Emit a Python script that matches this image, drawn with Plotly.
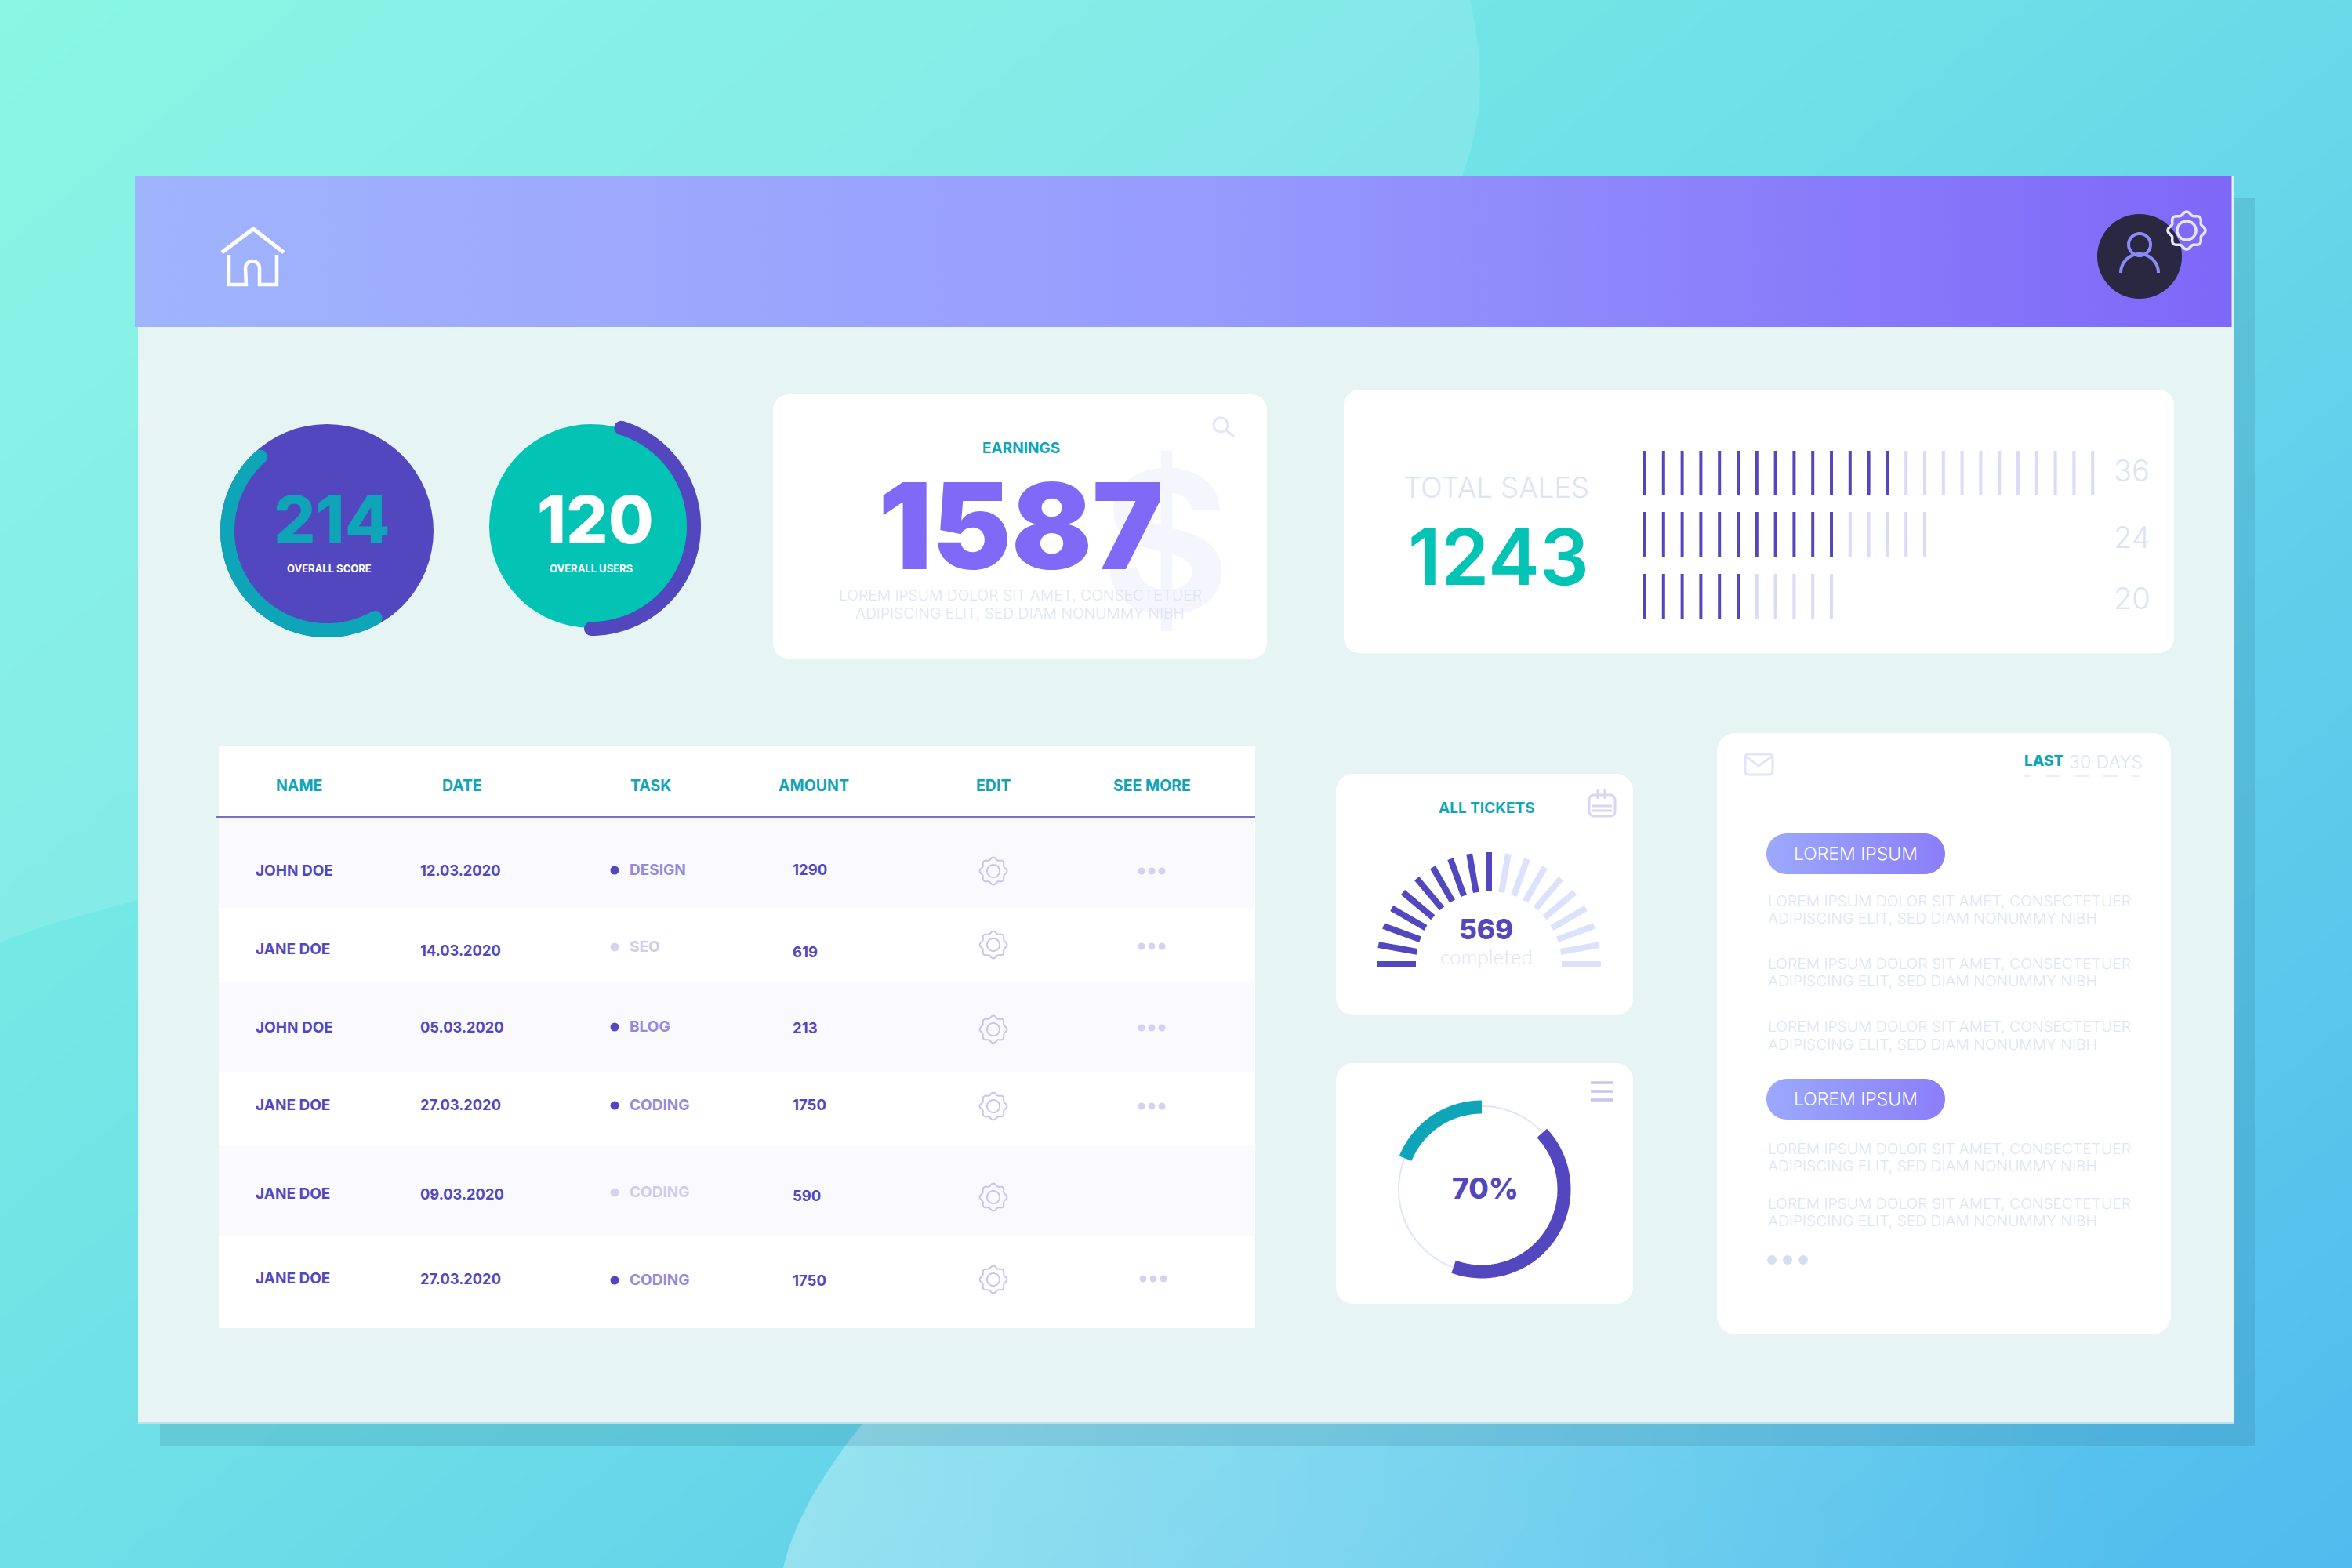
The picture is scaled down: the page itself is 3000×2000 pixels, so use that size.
import math
import plotly.graph_objects as go

# ---------- data ----------
table_headers = ["NAME", "DATE", "TASK", "AMOUNT", "EDIT", "SEE MORE"]
names = ["JOHN DOE", "JANE DOE", "JOHN DOE", "JANE DOE", "JANE DOE", "JANE DOE"]
dates = ["12.03.2020", "14.03.2020", "05.03.2020", "27.03.2020", "09.03.2020", "27.03.2020"]
tasks = ["DESIGN", "SEO", "BLOG", "CODING", "CODING", "CODING"]
task_active = [True, False, True, True, False, True]
amounts = ["1290", "619", "213", "1750", "590", "1750"]
has_more = [True, True, True, True, False, True]

sales_labels = ["36", "24", "20"]
sales_ticks_total = [25, 16, 11]
sales_ticks_dark = [14, 11, 6]

gauge_bars_total = 19
gauge_bars_dark = 10

score_arc = [132, 299]
users_arc = [73, -90]
donut_teal_arc = [90, 158]
donut_purple_arc = [43, -110]

PURPLE = "#5247BE"
TEAL = "#0FA5B8"
GREEN = "#03C3B5"
VIOLET = "#8069F7"
PALE = "#DDE5F5"
LILAC = "#D5D1F1"
LOREM1 = "LOREM IPSUM DOLOR SIT AMET, CONSECTETUER"
LOREM2 = "ADIPISCING ELIT, SED DIAM NONUMMY NIBH"
FONT = "Inter"

fig = go.Figure()


def rrect(x0, y0, x1, y1, r=0):
    if r == 0:
        return [x0, x1, x1, x0, x0], [y0, y0, y1, y1, y0]
    xs, ys = [], []
    for cx, cy, a0 in [(x1 - r, y0 + r, -90), (x1 - r, y1 - r, 0), (x0 + r, y1 - r, 90), (x0 + r, y0 + r, 180)]:
        for i in range(13):
            a = math.radians(a0 + i * 7.5)
            xs.append(cx + r * math.cos(a))
            ys.append(cy + r * math.sin(a))
    return xs + xs[:1], ys + ys[:1]


def arc(cx, cy, r, a0, a1, n=90):
    ang = [math.radians(a0 + (a1 - a0) * i / n) for i in range(n + 1)]
    return [cx + r * math.cos(a) for a in ang], [cy - r * math.sin(a) for a in ang]


def fill(xs, ys, color=None, gradient=None):
    kw = dict(fillgradient=dict(type="horizontal", colorscale=gradient)) if gradient else dict(fillcolor=color)
    fig.add_trace(go.Scatter(x=xs, y=ys, mode="lines", fill="toself", line=dict(width=0, simplify=False),
                             hoverinfo="skip", **kw))


def line(xs, ys, color, width, caps=False):
    fig.add_trace(go.Scatter(x=xs, y=ys, mode="lines", line=dict(color=color, width=width, simplify=False),
                             hoverinfo="skip"))
    if caps:
        fig.add_trace(go.Scatter(x=[xs[0], xs[-1]], y=[ys[0], ys[-1]], mode="markers",
                                 marker=dict(color=color, size=width, line=dict(width=0)), hoverinfo="skip"))


def dots(xs, ys, color, size):
    fig.add_trace(go.Scatter(x=xs, y=ys, mode="markers", marker=dict(color=color, size=size, line=dict(width=0)),
                             hoverinfo="skip"))


def gear(cx, cy, r_out, r_in, color, width):
    ang = [i * 2 * math.pi / 120 for i in range(121)]
    rad = [r_out + r_out * 0.09 * math.cos(8 * a) for a in ang]
    line([cx + r * math.sin(a) for r, a in zip(rad, ang)], [cy - r * math.cos(a) for r, a in zip(rad, ang)], color, width)
    xs, ys = arc(cx, cy, r_in, 0, 360)
    line(xs, ys, color, width)


def text(x, y, s, size, color, weight=400, anchor="center", family=FONT):
    fig.add_annotation(x=x, y=y, text=s, showarrow=False, xanchor=anchor, yanchor="middle",
                       font=dict(family=family, size=size, color=color, weight=weight))


# ---------- background ----------
fig.add_trace(go.Heatmap(x=[0, 3000], y=[0, 2000], z=[[0, 0.55], [0.45, 1]], zsmooth="best", showscale=False,
                         zmin=0, zmax=1, hoverinfo="skip",
                         colorscale=[[0, "#78F6E0"], [0.43, "#70E1E7"], [1, "#50BBEE"]]))
fill([0, 1875, 1881, 1886, 1888, 1887, 1882, 1875, 1865, 1850, 1800, 300, 176, 60, 0, 0],
     [0, 0, 30, 65, 105, 135, 165, 195, 225, 260, 400, 1100, 1148, 1180, 1202, 0], "rgba(255,255,255,0.13)")
blob_x = [1100, 1078, 1056, 1036, 1018, 1006, 999, 3000, 3000, 1100]
blob_y = [1816, 1844, 1876, 1908, 1944, 1974, 2000, 2000, 1816, 1816]
fill(blob_x, blob_y, gradient=[[0, "rgba(255,255,255,0.32)"], [0.4, "rgba(255,255,255,0.18)"], [0.85, "rgba(255,255,255,0)"], [1, "rgba(255,255,255,0)"]])

# ---------- panel ----------
fill(*rrect(204, 253, 2876, 1844), "rgba(40,90,120,0.15)")
fill(*rrect(176, 410, 2849, 1816), "#E6F4F3")
line([176, 2849], [1815, 1815], "#BFE3E6", 2)
fill(*rrect(172, 225, 2847, 417), gradient=[[0, "#A0B4FC"], [0.5, "#979CFD"], [1, "#7F67F8"]])
line([2848, 2848], [225, 417], "#DDF3F6", 3)

# header icons
line([283, 323, 362], [322, 292, 322], "#FFFFFF", 5)
hx, hy = arc(322, 342, 9, 180, 0, 20)
line([292, 292, 314] + hx + [331, 331, 353, 353], [325, 363, 363] + hy + [342, 363, 363, 325], "#FFFFFF", 4.5)
dots([2729], [327], "#2A2840", 108)
hx, hy = arc(2729, 312, 14, 0, 360)
line(hx, hy, "#8B8BF7", 4)
hx, hy = arc(2729, 348, 24, 0, 180, 40)
line(hx, hy, "#8B8BF7", 4)
gear(2789, 294, 22, 12, "#E4E8FC", 3.5)

# ---------- score circles ----------
dots([417], [677], PURPLE, 272)
line(*arc(417, 677, 127, score_arc[0], score_arc[1]), TEAL, 18, caps=True)
text(423, 662, "214", 84, TEAL, 800)
text(420, 725, "OVERALL SCORE", 13, "#FFFFFF", 700)
dots([754], [671], GREEN, 260)
line(*arc(754, 671, 131, users_arc[0], users_arc[1]), PURPLE, 18, caps=True)
text(759, 662, "120", 84, "#FFFFFF", 800)
text(754, 725, "OVERALL USERS", 13, "#FFFFFF", 700)

# ---------- earnings ----------
fill(*rrect(986, 503, 1616, 840, 20), "#FFFFFF")
text(1487, 690, "$", 250, "#F5F6FD", 700)
text(1302, 571, "EARNINGS", 19, TEAL, 700)
text(1302, 671, "1587", 152, VIOLET, 900)
text(1301, 759, LOREM1, 19.3, PALE, 300)
text(1301, 782, LOREM2, 19.3, PALE, 300)
hx, hy = arc(1557, 542, 9, 0, 360)
line(hx, hy, "#E3E4F8", 3)
line([1564, 1574], [549, 557], "#E3E4F8", 3)

# ---------- total sales ----------
fill(*rrect(1714, 497, 2773, 833, 20), "#FFFFFF")
text(1908, 622, "TOTAL SALES", 36.5, "#DCE4F3", 300)
text(1911, 710, "1243", 99, GREEN, 600)
for row, (label, total, dark, y0) in enumerate(zip(sales_labels, sales_ticks_total, sales_ticks_dark, [575, 653, 732])):
    for i in range(total):
        x = 2098 + i * 23.8
        line([x, x], [y0, y0 + 57], PURPLE if i < dark else "#D9DBF8", 4)
    text(2719, [600, 685, 763][row], label, 38, "#DCE4F3", 300)

# ---------- table ----------
fill(*rrect(279, 951, 1601, 1694), "#FFFFFF")
bands = [(1044, 1158), (1252, 1367), (1461, 1576)]
for b0, b1 in bands:
    fill(*rrect(279, b0, 1600, b1), "#F9F9FE")
line([276, 1601], [1042, 1042], "#7A6FD0", 2)
for h, x in zip(table_headers, [381, 589, 830, 1038, 1267, 1469]):
    text(x, 1002, h, 19.5, TEAL, 700)
name_y = [1110, 1210, 1310, 1409, 1522, 1630]
date_y = [1110, 1212, 1310, 1409, 1523, 1631]
task_y = [1109, 1207, 1309, 1409, 1520, 1632]
amount_y = [1109, 1214, 1311, 1409, 1525, 1633]
gear_y = [1111, 1205, 1313, 1411, 1527, 1632]
more_y = [1111, 1207, 1311, 1411, 1527, 1631]
for i in range(6):
    text(324, name_y[i], names[i], 19, PURPLE, 700, "left")
    text(534, date_y[i], dates[i], 18.3, PURPLE, 700, "left")
    dots([784], [task_y[i] + 1], PURPLE if task_active[i] else LILAC, 11)
    text(801, task_y[i], tasks[i], 19, "#9389DD" if task_active[i] else "#CFCBEF", 700, "left")
    text(1009, amounts and amount_y[i], amounts[i], 18.5, PURPLE, 700, "left")
    gear(1267, gear_y[i], 16, 8, "#C9C3F0", 2)
    if has_more[i]:
        shift = 2 if i == 5 else 0
        dots([1456 + shift, 1469 + shift, 1482 + shift], [more_y[i]] * 3, LILAC, 9)

# ---------- all tickets ----------
fill(*rrect(1704, 987, 2083, 1295, 22), "#FFFFFF")
text(1896, 1030, "ALL TICKETS", 19, TEAL, 700)
for i in range(gauge_bars_total):
    a = math.radians(180 - i * 180 / (gauge_bars_total - 1))
    ca, sa = math.cos(a), math.sin(a)
    line([1899 + 93 * ca, 1899 + 143 * ca], [1230 - 93 * sa, 1230 - 143 * sa],
         PURPLE if i < gauge_bars_dark else "#DDE2FC", 8)
text(1895, 1185, "569", 35, PURPLE, 800)
text(1896, 1220, "completed", 26, "#E2E2F5", 300, family="Lato")
line(*rrect(2027, 1014, 2060, 1041, 6), "#D9D5F2", 3)
line([2038, 2038], [1007, 1019], "#D9D5F2", 3)
line([2047, 2047], [1007, 1019], "#D9D5F2", 3)
line([2031, 2056], [1028, 1028], "#D9D5F2", 3)
line([2031, 2056], [1034, 1034], "#D9D5F2", 3)

# ---------- donut ----------
fill(*rrect(1704, 1356, 2083, 1663, 22), "#FFFFFF")
line(*arc(1890, 1517, 106, 0, 360, 180), "#DFE4FB", 2)
line(*arc(1890, 1517, 105, donut_teal_arc[0], donut_teal_arc[1]), TEAL, 17)
line(*arc(1890, 1517, 105, donut_purple_arc[0], donut_purple_arc[1]), PURPLE, 17)
text(1894, 1515, "70%", 37, PURPLE, 800)
for y in [1381, 1392, 1403]:
    line([2029, 2058], [y, y], "#C9C3F0", 3.5)

# ---------- messages ----------
fill(*rrect(2190, 935, 2769, 1702, 24), "#FFFFFF")
line(*rrect(2226, 962, 2261, 988, 4), "#E0E5FB", 3)
line([2227, 2243, 2260], [965, 977, 965], "#E0E5FB", 3)
text(2580, 970, "LAST", 19, TEAL, 800, "left")
text(2686, 972, "30 DAYS", 23, "#DCE4F3", 300)
for x0, x1 in [(2581, 2591), (2609, 2628), (2647, 2665), (2683, 2702), (2720, 2730)]:
    line([x0, x1], [990, 990], "#E3E8F7", 1.5)
for y0 in [1063, 1376]:
    fill(*rrect(2253, y0, 2481, y0 + 52, 26), gradient=[[0, "#9BA9FC"], [1, "#8B7EF8"]])
    text(2367, y0 + 26, "LOREM IPSUM", 23, "#FFFFFF", 300)
for y1, y2 in [(1149, 1171), (1229, 1251), (1309, 1332), (1465, 1487), (1535, 1557)]:
    text(2253, y1, LOREM1, 19.3, PALE, 300, "left")
    text(2253, y2, LOREM2, 19.3, PALE, 300, "left")
dots([2260, 2280, 2300], [1607] * 3, "#D5DFF0", 12)

fig.update_layout(width=3000, height=2000, margin=dict(l=0, r=0, t=0, b=0), showlegend=False,
                  paper_bgcolor="#70E1E7", plot_bgcolor="#70E1E7",
                  xaxis=dict(visible=False, range=[0, 3000], fixedrange=True),
                  yaxis=dict(visible=False, range=[2000, 0], fixedrange=True))
fig.write_html("out.html", config=dict(displayModeBar=False),
               post_script="document.body.style.margin='0';document.documentElement.style.overflow='hidden';")
